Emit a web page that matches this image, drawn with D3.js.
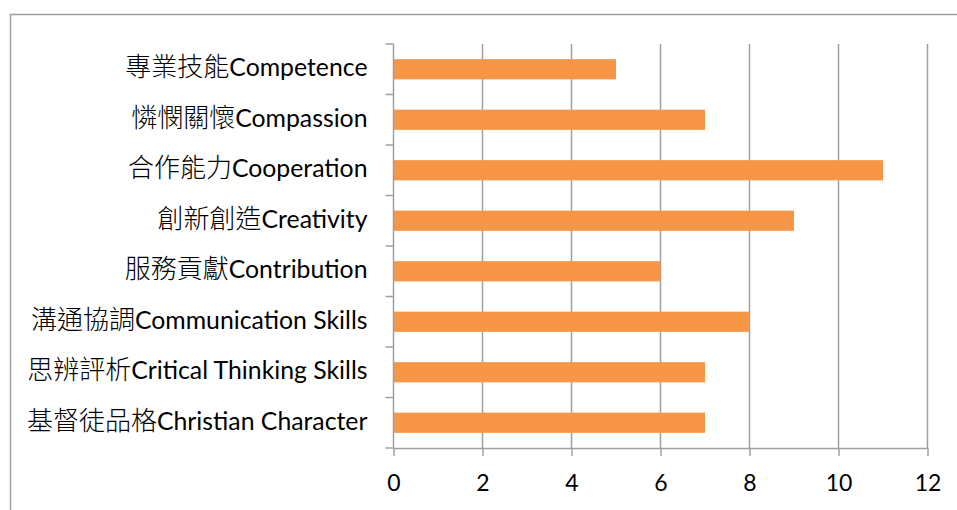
<!DOCTYPE html>
<html>
<head>
<meta charset="utf-8">
<script src="https://cdn.jsdelivr.net/npm/d3@7"></script>
<style>
  body { margin: 0; background: #fff; }
  svg text { font-family: "Lato", "Noto Sans CJK TC", sans-serif; fill: #000; }
  .cjk { font-family: "Noto Sans CJK TC", sans-serif; font-weight: 300; }
</style>
</head>
<body>
<svg id="chart"></svg>
<script>
const categories = ["專業技能Competence", "憐憫關懷Compassion", "合作能力Cooperation", "創新創造Creativity",
    "服務貢獻Contribution", "溝通協調Communication Skills", "思辨評析Critical Thinking Skills", "基督徒品格Christian Character"]
const values = [5, 7, 11, 9, 6, 8, 7, 7]
const xTicks = [0, 2, 4, 6, 8, 10, 12]

const width = 957, height = 510
const margin = {left: 393.5, right: 29.5, top: 44, bottom: 62}
const gridColor = "#a0a0a0"

const svg = d3.select("#chart").attr("width", width).attr("height", height)

// outer frame
svg.append("rect")
    .attr("x", 10.5).attr("y", 14.5)
    .attr("width", width).attr("height", height)
    .style("fill", "none").style("stroke", gridColor).style("stroke-width", 1.5)

const x = d3.scaleLinear().domain([0, 12]).range([margin.left, width - margin.right])
const y = d3.scaleBand().domain(categories).range([margin.top, height - margin.bottom]).paddingInner(0.6).paddingOuter(0.3)
const yEdge = d3.scaleLinear().domain([0, categories.length]).range([margin.top, height - margin.bottom])

// gridlines
svg.append("g").selectAll("line")
    .data(xTicks.slice(1))
    .enter().append("line")
    .attr("x1", d => x(d)).attr("x2", d => x(d))
    .attr("y1", margin.top).attr("y2", height - margin.bottom)
    .style("stroke", gridColor).style("stroke-width", 1.5)

// bars
svg.append("g").selectAll("rect")
    .data(categories)
    .enter().append("rect")
    .attr("x", x(0))
    .attr("y", d => y(d))
    .attr("width", (d, i) => x(values[i]) - x(0))
    .attr("height", y.bandwidth())
    .style("fill", "#F79646")

// x axis
const xAxis = svg.append("g")
    .attr("transform", `translate(0,${height - margin.bottom})`)
    .call(d3.axisBottom(x).tickValues(xTicks).tickSize(8).tickPadding(19).tickSizeOuter(0))
xAxis.select(".domain").style("stroke", gridColor).style("stroke-width", 1.5)
xAxis.selectAll("line").style("stroke", gridColor).style("stroke-width", 1.5)
xAxis.selectAll("text").style("font-size", "23px")

// y axis: line + ticks on category boundaries
const yAxis = svg.append("g").attr("transform", `translate(${x(0)},0)`)
yAxis.append("line")
    .attr("y1", margin.top).attr("y2", height - margin.bottom)
    .style("stroke", gridColor).style("stroke-width", 1.5)
yAxis.selectAll(".edge")
    .data(d3.range(categories.length + 1))
    .enter().append("line")
    .attr("x1", -8).attr("x2", 0)
    .attr("y1", d => yEdge(d)).attr("y2", d => yEdge(d))
    .style("stroke", gridColor).style("stroke-width", 1.5)

// labels: chinese part + english part
const labels = yAxis.selectAll("text")
    .data(categories)
    .enter().append("text")
    .attr("x", -26)
    .attr("y", d => y(d) + y.bandwidth() / 2)
    .attr("dy", "0.43em")
    .style("text-anchor", "end")
labels.append("tspan")
    .attr("class", "cjk")
    .style("font-size", "26px")
    .text(d => d.match(/^[^A-Za-z]+/)[0])
labels.append("tspan")
    .style("font-size", "24.8px")
    .text(d => d.replace(/^[^A-Za-z]+/, ""))
</script>
</body>
</html>
